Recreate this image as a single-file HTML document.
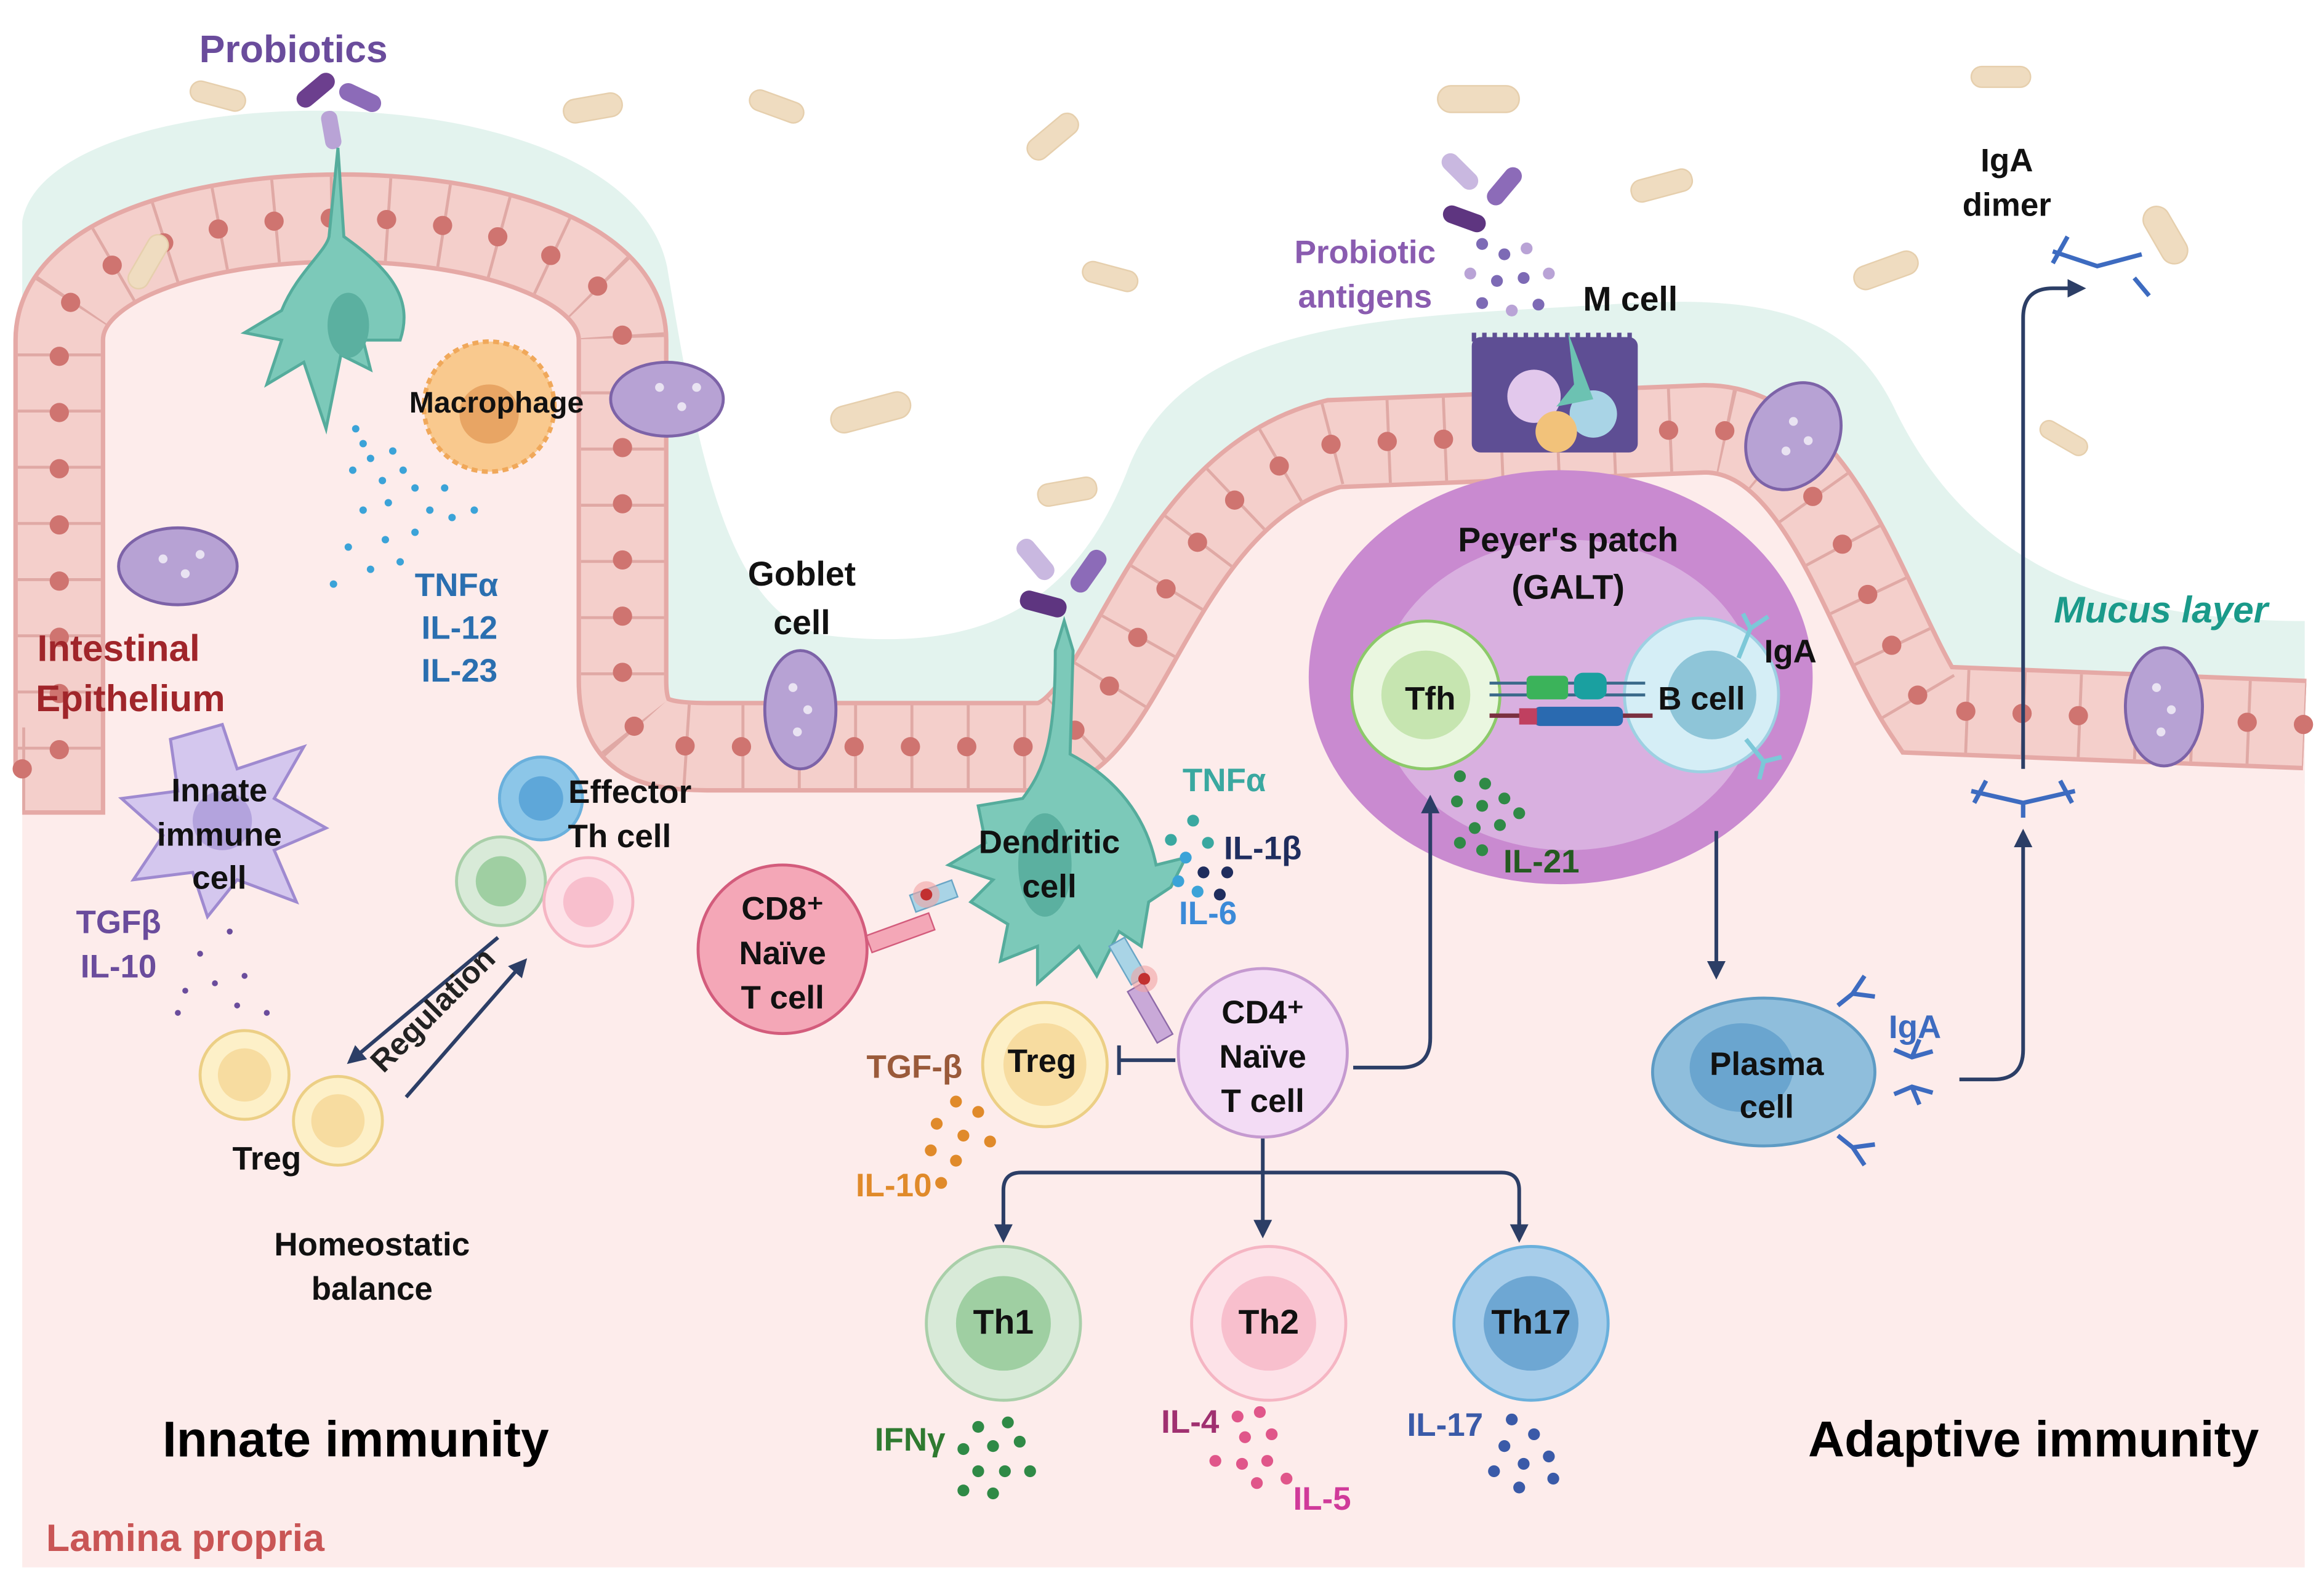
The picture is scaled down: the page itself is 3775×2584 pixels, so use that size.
<!DOCTYPE html>
<html><head><meta charset="utf-8">
<style>
html,body{margin:0;padding:0;background:#fff;}
svg{display:block;}
text{font-family:"Liberation Sans",sans-serif;font-weight:bold;text-anchor:middle;}
</style></head>
<body>
<svg width="3775" height="2584" viewBox="0 0 1568 1076" preserveAspectRatio="none" xmlns="http://www.w3.org/2000/svg">
<defs>
<marker id="ar" viewBox="0 0 10 10" refX="8" refY="5" markerWidth="5" markerHeight="5" orient="auto"><path d="M0,0 L10,5 L0,10 Z" fill="#2c3e66"/></marker>
</defs>
<rect width="1568" height="1076" fill="#fff"/>
<path d="M15,530 L15,150 C30,50 420,40 450,180 C470,300 490,420 560,430 C650,440 720,420 760,320 C800,210 950,215 1100,205 C1200,200 1250,215 1280,280 C1330,380 1420,420 1555,420 L1555,530 Z" fill="#e3f3ee"/>
<path d="M15,525 L15,520 L40,520 L40,230 C40,120 420,120 420,230 L420,460 C420,500 440,505 480,505 L700,505 C760,505 780,330 900,300 L1150,290 C1230,290 1260,420 1300,480 L1555,490 L1555,1060 L15,1060 Z" fill="#fdeceb"/>
<path d="M15,520 L40,520 L40,230 C40,120 420,120 420,230 L420,460 C420,500 440,505 480,505 L700,505 C760,505 780,330 900,300 L1150,290 C1230,290 1260,420 1300,480 L1555,490" fill="none" stroke="#e5a9a6" stroke-width="62"/>
<path d="M15,520 L40,520 L40,230 C40,120 420,120 420,230 L420,460 C420,500 440,505 480,505 L700,505 C760,505 780,330 900,300 L1150,290 C1230,290 1260,420 1300,480 L1555,490" fill="none" stroke="#f4cfcb" stroke-width="56"/>
<path d="M15,520 L40,520 L40,230 C40,120 420,120 420,230 L420,460 C420,500 440,505 480,505 L700,505 C760,505 780,330 900,300 L1150,290 C1230,290 1260,420 1300,480 L1555,490" fill="none" stroke="#e0a9a5" stroke-width="56" stroke-dasharray="2 36"/>
<path d="M15,520 L40,520 L40,230 C40,120 420,120 420,230 L420,460 C420,500 440,505 480,505 L700,505 C760,505 780,330 900,300 L1150,290 C1230,290 1260,420 1300,480 L1555,490" fill="none" stroke="#cf7470" stroke-width="13" stroke-linecap="round" stroke-dasharray="0 38"/>

<g fill="#efdcc0" stroke="#e6cfad" stroke-width="1">
<rect x="128" y="58" width="38" height="14" rx="7" transform="rotate(15 147 65)"/>
<rect x="380" y="65" width="40" height="16" rx="8" transform="rotate(-10 400 73)"/>
<rect x="505" y="65" width="38" height="14" rx="7" transform="rotate(20 524 72)"/>
<rect x="690" y="85" width="40" height="15" rx="7" transform="rotate(-40 710 92)"/>
<rect x="970" y="58" width="55" height="18" rx="9"/>
<rect x="560" y="270" width="55" height="18" rx="9" transform="rotate(-15 587 279)"/>
<rect x="700" y="325" width="40" height="15" rx="7" transform="rotate(-10 720 332)"/>
<rect x="730" y="180" width="38" height="14" rx="7" transform="rotate(15 749 187)"/>
<rect x="1100" y="118" width="42" height="15" rx="7" transform="rotate(-15 1121 125)"/>
<rect x="1250" y="175" width="45" height="16" rx="8" transform="rotate(-20 1272 183)"/>
<rect x="1330" y="45" width="40" height="14" rx="7"/>
<rect x="1440" y="150" width="42" height="18" rx="9" transform="rotate(60 1461 159)"/>
<rect x="80" y="170" width="40" height="14" rx="7" transform="rotate(-60 100 177)"/>
<rect x="1375" y="290" width="35" height="12" rx="6" transform="rotate(30 1392 296)"/>
</g>

<g>
<rect x="198" y="55" width="30" height="12" rx="6" fill="#6c3f8e" transform="rotate(-40 213 61)"/>
<rect x="228" y="60" width="30" height="12" rx="6" fill="#8c6bb8" transform="rotate(25 243 66)"/>
<rect x="210" y="82" width="26" height="11" rx="5" fill="#b9a3d6" transform="rotate(80 223 88)"/>
<rect x="970" y="110" width="30" height="12" rx="6" fill="#c9b8e0" transform="rotate(45 985 116)"/>
<rect x="1000" y="120" width="30" height="12" rx="6" fill="#8c6bb8" transform="rotate(-50 1015 126)"/>
<rect x="973" y="142" width="30" height="12" rx="6" fill="#5e3580" transform="rotate(20 988 148)"/>
<rect x="683" y="372" width="32" height="13" rx="6" fill="#c9b8e0" transform="rotate(50 699 378)"/>
<rect x="718" y="380" width="32" height="13" rx="6" fill="#8c6bb8" transform="rotate(-55 734 386)"/>
<rect x="688" y="402" width="32" height="13" rx="6" fill="#5e3580" transform="rotate(15 704 408)"/>
</g>
<g fill="#7d6ab5">
<circle cx="1000" cy="165" r="4"/><circle cx="1015" cy="172" r="4"/><circle cx="1030" cy="168" r="4" fill="#b9a3d6"/>
<circle cx="992" cy="185" r="4" fill="#b9a3d6"/><circle cx="1010" cy="190" r="4"/><circle cx="1028" cy="188" r="4"/><circle cx="1045" cy="185" r="4" fill="#b9a3d6"/>
<circle cx="1000" cy="205" r="4"/><circle cx="1020" cy="210" r="4" fill="#b9a3d6"/><circle cx="1038" cy="206" r="4"/>
</g>

<g fill="#b7a2d4" stroke="#7d63a8" stroke-width="2">
<ellipse cx="120" cy="383" rx="40" ry="26"/>
<ellipse cx="450" cy="270" rx="38" ry="25"/>
<ellipse cx="540" cy="480" rx="24" ry="40"/>
<ellipse cx="1210" cy="295" rx="30" ry="38" transform="rotate(30 1210 295)"/>
<ellipse cx="1460" cy="478" rx="26" ry="40"/>
</g>
<g fill="#fff" opacity="0.7">
<circle cx="110" cy="378" r="3"/><circle cx="125" cy="388" r="3"/><circle cx="135" cy="375" r="3"/>
<circle cx="445" cy="262" r="3"/><circle cx="460" cy="275" r="3"/><circle cx="470" cy="262" r="3"/>
<circle cx="535" cy="465" r="3"/><circle cx="545" cy="480" r="3"/><circle cx="538" cy="495" r="3"/>
<circle cx="1210" cy="285" r="3"/><circle cx="1220" cy="298" r="3"/><circle cx="1205" cy="305" r="3"/>
<circle cx="1455" cy="465" r="3"/><circle cx="1465" cy="480" r="3"/><circle cx="1458" cy="495" r="3"/>
</g>

<rect x="993" y="228" width="112" height="78" rx="6" fill="#5e4e94"/>
<path d="M993,228 h112" stroke="#5e4e94" stroke-width="6" stroke-dasharray="3 4"/>
<circle cx="1035" cy="268" r="18" fill="#e2c8ec"/>
<circle cx="1075" cy="280" r="16" fill="#a9d4e6"/>
<circle cx="1050" cy="292" r="14" fill="#f2c27a"/>
<path d="M1058,225 L1062,260 L1050,275 L1075,270 Z" fill="#6cc2b2"/>

<circle cx="330" cy="275" r="44" fill="#f9c98e" stroke="#f0a85a" stroke-width="3" stroke-dasharray="4 3"/>
<circle cx="330" cy="280" r="20" fill="#e8a564"/>
<path d="M228,100 L232,160 C260,180 280,200 270,230 L245,230 L250,250 L230,240 L220,290 L205,245 L180,260 L190,230 L165,225 L190,210 C200,185 220,170 222,160 Z" fill="#7cc9b9" stroke="#55ac9c" stroke-width="2"/>
<ellipse cx="235" cy="220" rx="14" ry="22" fill="#5bb0a0"/>
<path d="M150,490 L160,520 L205,505 L185,540 L220,560 L185,575 L200,610 L160,595 L140,620 L130,590 L90,595 L110,565 L82,540 L120,535 L115,500 Z" fill="#d4c7ee" stroke="#9f8ad0" stroke-width="2"/>
<circle cx="150" cy="555" r="20" fill="#b3a3dd"/>

<g fill="#3ba3d8">
<circle cx="240" cy="290" r="2.5"/><circle cx="245" cy="300" r="2.5"/><circle cx="250" cy="310" r="2.5"/><circle cx="238" cy="318" r="2.5"/><circle cx="258" cy="325" r="2.5"/><circle cx="265" cy="305" r="2.5"/><circle cx="272" cy="318" r="2.5"/><circle cx="280" cy="330" r="2.5"/><circle cx="262" cy="340" r="2.5"/><circle cx="245" cy="345" r="2.5"/><circle cx="290" cy="345" r="2.5"/><circle cx="300" cy="330" r="2.5"/><circle cx="305" cy="350" r="2.5"/><circle cx="280" cy="360" r="2.5"/><circle cx="260" cy="365" r="2.5"/><circle cx="235" cy="370" r="2.5"/><circle cx="250" cy="385" r="2.5"/><circle cx="225" cy="395" r="2.5"/><circle cx="320" cy="345" r="2.5"/><circle cx="270" cy="380" r="2.5"/>
</g>
<g fill="#6a4c9c"><circle cx="155" cy="630" r="2"/><circle cx="135" cy="645" r="2"/><circle cx="165" cy="660" r="2"/><circle cx="145" cy="665" r="2"/><circle cx="125" cy="670" r="2"/><circle cx="160" cy="680" r="2"/><circle cx="120" cy="685" r="2"/><circle cx="180" cy="685" r="2"/></g>

<circle cx="365" cy="540" r="28" fill="#8cc6e8" stroke="#6ab0dc" stroke-width="2"/><circle cx="365" cy="540" r="15" fill="#5ea7d9"/>
<circle cx="338" cy="596" r="30" fill="#d8ead8" stroke="#a9cfa9" stroke-width="2"/><circle cx="338" cy="596" r="17" fill="#9fcfa2"/>
<circle cx="397" cy="610" r="30" fill="#fde2e8" stroke="#f5b5c3" stroke-width="2"/><circle cx="397" cy="610" r="17" fill="#f8bfcd"/>
<circle cx="165" cy="727" r="30" fill="#fdf0c8" stroke="#eccf85" stroke-width="2"/><circle cx="165" cy="727" r="18" fill="#f7dca0"/>
<circle cx="228" cy="758" r="30" fill="#fdf0c8" stroke="#eccf85" stroke-width="2"/><circle cx="228" cy="758" r="18" fill="#f7dca0"/>
<line x1="336" y1="634" x2="236" y2="718" stroke="#2c3e66" stroke-width="2.5" marker-end="url(#ar)"/>
<line x1="274" y1="742" x2="354" y2="650" stroke="#2c3e66" stroke-width="2.5" marker-end="url(#ar)"/>
<text x="297" y="688" font-size="21" fill="#222" transform="rotate(-45 297 688)">Regulation</text>

<path d="M718,420 L724,440 L722,510 C760,530 775,560 780,585 L800,580 L790,600 L775,610 L770,640 L755,630 L740,660 L728,640 L700,665 L700,640 L675,650 L680,625 L655,610 L670,595 L640,585 L665,570 L660,545 L690,540 C705,520 712,500 712,440 Z" fill="#7cc9b9" stroke="#55ac9c" stroke-width="2"/>
<ellipse cx="705" cy="585" rx="18" ry="35" fill="#5bb0a0"/>
<g>
<rect x="585" y="625" width="45" height="12" fill="#f4a7b7" stroke="#d35c7c" transform="rotate(-20 607 631)"/>
<rect x="615" y="600" width="30" height="12" fill="#a9d4e6" stroke="#6aa6c6" transform="rotate(-20 630 606)"/>
<circle cx="625" cy="605" r="9" fill="#f1a3a3" opacity="0.6"/><circle cx="625" cy="605" r="4" fill="#c23030"/>
<rect x="755" y="635" width="12" height="30" fill="#a9d4e6" stroke="#6aa6c6" transform="rotate(-30 761 650)"/>
<rect x="770" y="665" width="12" height="40" fill="#c9a9d8" stroke="#8e6aa8" transform="rotate(-30 776 685)"/>
<circle cx="772" cy="662" r="9" fill="#f1a3a3" opacity="0.6"/><circle cx="772" cy="662" r="4" fill="#c23030"/>
</g>
<g>
<circle cx="805" cy="555" r="4" fill="#3aa8a0"/><circle cx="790" cy="568" r="4" fill="#3aa8a0"/><circle cx="815" cy="570" r="4" fill="#3aa8a0"/>
<circle cx="800" cy="580" r="4" fill="#3ba3d8"/><circle cx="812" cy="590" r="4" fill="#1f2d5e"/><circle cx="828" cy="590" r="4" fill="#1f2d5e"/>
<circle cx="795" cy="596" r="4" fill="#3ba3d8"/><circle cx="808" cy="603" r="4" fill="#3ba3d8"/><circle cx="823" cy="605" r="4" fill="#1f2d5e"/>
</g>

<circle cx="528" cy="642" r="57" fill="#f4a7b7" stroke="#d35c7c" stroke-width="2"/>
<circle cx="852" cy="712" r="57" fill="#f3dcf5" stroke="#c59ad0" stroke-width="2"/>
<circle cx="705" cy="720" r="42" fill="#fdf0c8" stroke="#eccf85" stroke-width="2"/><circle cx="705" cy="720" r="28" fill="#f7dca0"/>
<line x1="793" y1="717" x2="755" y2="717" stroke="#2c3e66" stroke-width="2.5"/>
<line x1="755" y1="707" x2="755" y2="727" stroke="#2c3e66" stroke-width="2.5"/>
<g fill="#e08a2a"><circle cx="645" cy="745" r="4"/><circle cx="660" cy="752" r="4"/><circle cx="632" cy="760" r="4"/><circle cx="650" cy="768" r="4"/><circle cx="668" cy="772" r="4"/><circle cx="628" cy="778" r="4"/><circle cx="645" cy="785" r="4"/><circle cx="635" cy="800" r="4"/></g>

<circle cx="677" cy="895" r="52" fill="#d8ead8" stroke="#a9cfa9" stroke-width="2"/><circle cx="677" cy="895" r="32" fill="#9fcfa2"/>
<circle cx="856" cy="895" r="52" fill="#fde2e8" stroke="#f5b5c3" stroke-width="2"/><circle cx="856" cy="895" r="32" fill="#f8bfcd"/>
<circle cx="1033" cy="895" r="52" fill="#a7cdea" stroke="#6ab0dc" stroke-width="2"/><circle cx="1033" cy="895" r="32" fill="#6ea7d3"/>
<path d="M852,770 L852,835" stroke="#2c3e66" stroke-width="2.5" marker-end="url(#ar)" fill="none"/>
<path d="M677,835 L677,805 Q677,793 689,793 L1013,793 Q1025,793 1025,805 L1025,835" stroke="#2c3e66" stroke-width="2.5" fill="none"/>
<path d="M677,825 L677,838" stroke="#2c3e66" stroke-width="2.5" marker-end="url(#ar)"/>
<path d="M1025,825 L1025,838" stroke="#2c3e66" stroke-width="2.5" marker-end="url(#ar)"/>
<g fill="#2f8a46"><circle cx="660" cy="965" r="4"/><circle cx="680" cy="962" r="4"/><circle cx="650" cy="980" r="4"/><circle cx="670" cy="978" r="4"/><circle cx="688" cy="975" r="4"/><circle cx="660" cy="995" r="4"/><circle cx="678" cy="995" r="4"/><circle cx="695" cy="995" r="4"/><circle cx="650" cy="1008" r="4"/><circle cx="670" cy="1010" r="4"/></g>
<g fill="#e0568a"><circle cx="835" cy="958" r="4"/><circle cx="850" cy="955" r="4"/><circle cx="840" cy="972" r="4"/><circle cx="858" cy="970" r="4"/><circle cx="820" cy="988" r="4"/><circle cx="838" cy="990" r="4"/><circle cx="855" cy="988" r="4"/><circle cx="868" cy="1000" r="4"/><circle cx="848" cy="1003" r="4"/></g>
<g fill="#3a5aa8"><circle cx="1020" cy="960" r="4"/><circle cx="1035" cy="970" r="4"/><circle cx="1015" cy="978" r="4"/><circle cx="1045" cy="985" r="4"/><circle cx="1028" cy="990" r="4"/><circle cx="1008" cy="995" r="4"/><circle cx="1048" cy="1000" r="4"/><circle cx="1025" cy="1006" r="4"/></g>

<ellipse cx="1053" cy="458" rx="170" ry="140" fill="#c98ad0"/>
<ellipse cx="1058" cy="470" rx="128" ry="105" fill="#d9b0e0"/>
<circle cx="962" cy="470" r="50" fill="#eaf7e0" stroke="#8cc96a" stroke-width="2"/><circle cx="962" cy="470" r="30" fill="#c6e5b0"/>
<circle cx="1148" cy="470" r="52" fill="#d5eef6" stroke="#9dd0e2" stroke-width="2"/><circle cx="1155" cy="470" r="30" fill="#8ec5d8"/>
<line x1="1005" y1="462" x2="1110" y2="462" stroke="#3a6a8a" stroke-width="2"/>
<line x1="1005" y1="470" x2="1110" y2="470" stroke="#3a6a8a" stroke-width="2"/>
<rect x="1030" y="457" width="28" height="16" rx="3" fill="#3bb35a"/>
<rect x="1062" y="455" width="22" height="18" rx="6" fill="#1aa0a0"/>
<line x1="1005" y1="484" x2="1115" y2="484" stroke="#7a3040" stroke-width="3"/>
<rect x="1035" y="478" width="60" height="13" rx="4" fill="#2a6ab0"/>
<rect x="1025" y="479" width="12" height="11" fill="#c04060"/>
<g fill="#2f8a46"><circle cx="985" cy="525" r="4"/><circle cx="1002" cy="530" r="4"/><circle cx="983" cy="542" r="4"/><circle cx="1000" cy="545" r="4"/><circle cx="1015" cy="540" r="4"/><circle cx="1025" cy="550" r="4"/><circle cx="995" cy="560" r="4"/><circle cx="1012" cy="558" r="4"/><circle cx="985" cy="570" r="4"/><circle cx="1000" cy="575" r="4"/></g>
<path d="M1173,445 l8,-20 M1181,425 l-5,-10 M1181,425 l12,-8 M1178,500 l12,15 M1190,515 l-3,12 M1190,515 l12,-3" stroke="#7cc8d8" stroke-width="3" fill="none"/>

<path d="M913,722 L945,722 Q965,722 965,702 L965,540" stroke="#2c3e66" stroke-width="2.5" fill="none" marker-end="url(#ar)"/>
<path d="M1158,562 L1158,660" stroke="#2c3e66" stroke-width="2.5" fill="none" marker-end="url(#ar)"/>
<path d="M1322,730 L1345,730 Q1365,730 1365,710 L1365,563" stroke="#2c3e66" stroke-width="2.5" fill="none" marker-end="url(#ar)"/>
<path d="M1365,520 L1365,215 Q1365,195 1385,195 L1405,195" stroke="#2c3e66" stroke-width="2.5" fill="none" marker-end="url(#ar)"/>

<ellipse cx="1190" cy="725" rx="75" ry="50" fill="#8fbedc" stroke="#5e9bc4" stroke-width="2"/>
<ellipse cx="1175" cy="722" rx="35" ry="30" fill="#6aa5cf"/>
<g stroke="#3d6bc0" stroke-width="3" fill="none">
<path d="M1240,680 l10,-8 l8,-12 M1250,672 l15,2"/>
<path d="M1240,768 l10,8 l8,12 M1250,776 l15,-2"/>
<path d="M1278,710 l12,5 l14,-4 M1290,715 l5,-12"/>
<path d="M1278,740 l12,-5 l14,4 M1290,735 l5,12"/>
<path d="M1330,535 l35,8 l35,-8 M1340,528 l-8,15 M1390,528 l8,15 M1365,543 l0,10"/>
<path d="M1385,170 l30,10 l30,-8 M1395,160 l-10,18 M1440,188 l10,12"/>
</g>

<text x="198" y="42" font-size="26" fill="#6a4c9c">Probiotics</text>
<text x="335" y="279" font-size="20" fill="#111">Macrophage</text>
<g font-size="22" fill="#2a6fb0"><text x="308" y="403">TNFα</text><text x="310" y="432">IL-12</text><text x="310" y="461">IL-23</text></g>
<g font-size="25" fill="#a0252a"><text x="80" y="447">Intestinal</text><text x="88" y="481">Epithelium</text></g>
<g font-size="23" fill="#111"><text x="541" y="396">Goblet</text><text x="541" y="429">cell</text></g>
<g font-size="22" fill="#111"><text x="148" y="542">Innate</text><text x="148" y="572">immune</text><text x="148" y="601">cell</text></g>
<g font-size="22" fill="#6a4c9c"><text x="80" y="631">TGFβ</text><text x="80" y="661">IL-10</text></g>
<g font-size="22" fill="#111"><text x="425" y="543">Effector</text><text x="418" y="573">Th cell</text></g>
<text x="180" y="791" font-size="22" fill="#111">Treg</text>
<g font-size="22" fill="#111"><text x="251" y="849">Homeostatic</text><text x="251" y="879">balance</text></g>
<text x="240" y="985" font-size="34" fill="#000">Innate immunity</text>
<text x="125" y="1049" font-size="26" fill="#c95555">Lamina propria</text>
<g font-size="22" fill="#8a5cb0"><text x="921" y="178">Probiotic</text><text x="921" y="208">antigens</text></g>
<text x="1100" y="210" font-size="23" fill="#111">M cell</text>
<g font-size="22" fill="#111"><text x="1354" y="116">IgA</text><text x="1354" y="146">dimer</text></g>
<text x="1458" y="421" font-size="25" fill="#1a9a8a" font-style="italic">Mucus layer</text>
<g font-size="23" fill="#111"><text x="1058" y="373">Peyer's patch</text><text x="1058" y="405">(GALT)</text></g>
<text x="965" y="480" font-size="22" fill="#111">Tfh</text>
<text x="1148" y="480" font-size="22" fill="#111">B cell</text>
<text x="1208" y="448" font-size="22" fill="#111">IgA</text>
<text x="1040" y="590" font-size="22" fill="#245a20">IL-21</text>
<text x="826" y="535" font-size="22" fill="#3aa8a0">TNFα</text>
<text x="852" y="581" font-size="22" fill="#1f2d5e">IL-1β</text>
<text x="815" y="625" font-size="22" fill="#3b8ad8">IL-6</text>
<g font-size="22" fill="#111"><text x="708" y="577">Dendritic</text><text x="708" y="607">cell</text></g>
<g font-size="22" fill="#111"><text x="528" y="622">CD8⁺</text><text x="528" y="652">Naïve</text><text x="528" y="682">T cell</text></g>
<g font-size="22" fill="#111"><text x="852" y="692">CD4⁺</text><text x="852" y="722">Naïve</text><text x="852" y="752">T cell</text></g>
<text x="703" y="725" font-size="22" fill="#111">Treg</text>
<text x="617" y="729" font-size="22" fill="#9a5a3a">TGF-β</text>
<text x="603" y="809" font-size="22" fill="#e08a2a">IL-10</text>
<g font-size="22" fill="#111"><text x="1192" y="727">Plasma</text><text x="1192" y="756">cell</text></g>
<text x="1292" y="702" font-size="22" fill="#3d6bc0">IgA</text>
<g font-size="23" fill="#111"><text x="677" y="902">Th1</text><text x="856" y="902">Th2</text><text x="1033" y="902">Th17</text></g>
<text x="614" y="981" font-size="22" fill="#2f7a30">IFNγ</text>
<text x="803" y="969" font-size="22" fill="#a03070">IL-4</text>
<text x="892" y="1021" font-size="22" fill="#d03a9a">IL-5</text>
<text x="975" y="971" font-size="22" fill="#3a5aa8">IL-17</text>
<text x="1372" y="985" font-size="34" fill="#000">Adaptive immunity</text>
</svg>
</body></html>
